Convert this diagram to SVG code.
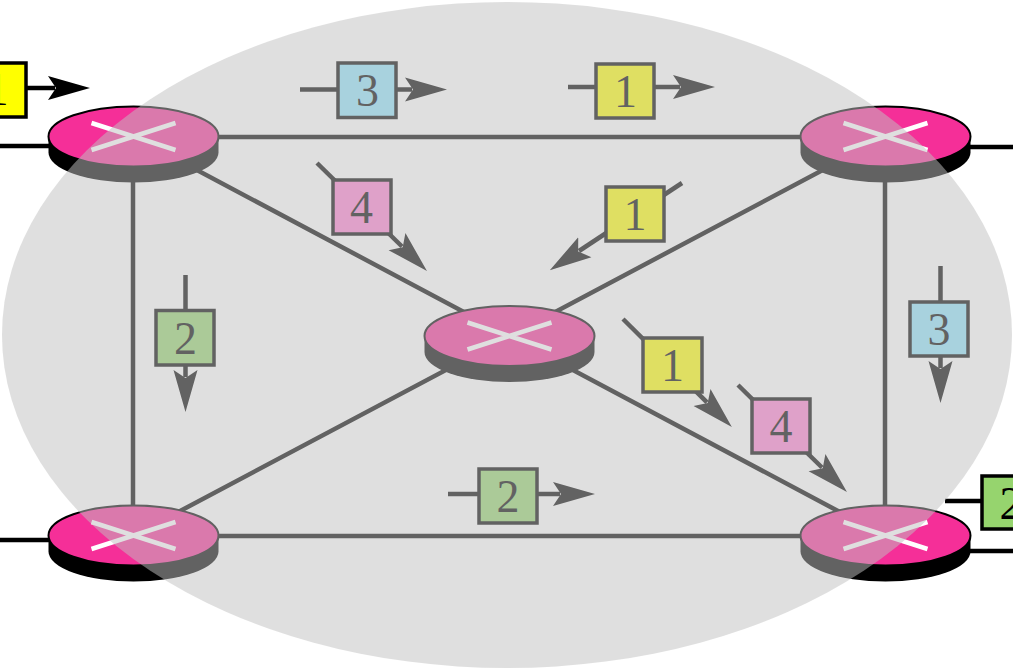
<svg xmlns="http://www.w3.org/2000/svg" width="1013" height="670" viewBox="0 0 1013 670">
<defs>
<marker id="head" markerUnits="userSpaceOnUse" markerWidth="46" markerHeight="28" refX="7" refY="14" orient="auto" viewBox="0 0 46 28"><path d="M0,2 L42,14 L0,26 L8,14 Z" fill="#000"/></marker>
<g id="router">
<path class="side" d="M-85,0 v16 a85,30 0 0 0 170,0 v-16 z"/>
<ellipse class="top" rx="85" ry="30"/>
<path class="cross" d="M-42,-13.5 L42,13.5 M-42,13.5 L42,-13.5"/>
</g>
</defs>
<style>
.link{stroke:#000;stroke-width:4.5;fill:none}
.flow{stroke:#000;stroke-width:4.5;fill:none;marker-end:url(#head)}
.side{fill:#000}
.top{fill:#f52f98;stroke:#000;stroke-width:2}
.cross{stroke:#fff;stroke-width:4.5;fill:none}
.pkt{stroke:#000;stroke-width:3.5}
.y{fill:#ffff00}.b{fill:#90e4fd}.g{fill:#96d46e}.p{fill:#ff80d3}
text{font-family:"Liberation Serif",serif;font-size:46px;text-anchor:middle;fill:#000}
</style>
<rect width="1013" height="670" fill="#fff"/>
<g id="connectors">
<path class="link" d="M133,137 H885 M133,536 H885 M133,137 V536 M885,137 V536 M133,136 L885,536 M885,137 L133,536 M0,146 H50 M0,540 H50 M968,147 H1013 M968,551 H1013"/>
<path class="flow" d="M26,88 H55"/>
<path class="flow" d="M300,89.5 H412"/>
<path class="flow" d="M568,87 H680"/>
<path class="flow" d="M317,163 L402,246.5"/>
<path class="flow" d="M682,183 L579,251"/>
<path class="flow" d="M185.5,275 V377"/>
<path class="flow" d="M940.5,266 V368"/>
<path class="flow" d="M623,319 L707,402.4"/>
<path class="flow" d="M738,385 L822,467.5"/>
<path class="flow" d="M448,494 H560"/>
<path class="link" d="M945,501 H982"/>
</g>
<use id="router-tl" href="#router" x="133.5" y="136.5"/>
<use id="router-tr" href="#router" x="885.5" y="136.5"/>
<use id="router-c" href="#router" x="509.5" y="336"/>
<use id="router-bl" href="#router" x="133.5" y="535.5"/>
<use id="router-br" href="#router" x="885.5" y="535.5"/>
<g id="pkt-1"><rect class="pkt y" x="-32" y="63" width="58" height="54"/><text x="-3" y="105">1</text></g>
<g id="pkt-2"><rect class="pkt b" x="338" y="63" width="58" height="54.5"/><text x="367.5" y="106">3</text></g>
<g id="pkt-3"><rect class="pkt y" x="596" y="64" width="58" height="54"/><text x="625.5" y="107">1</text></g>
<g id="pkt-4"><rect class="pkt p" x="333" y="180" width="58" height="54"/><text x="361.5" y="223">4</text></g>
<g id="pkt-5"><rect class="pkt y" x="606" y="187" width="58" height="54"/><text x="635" y="230">1</text></g>
<g id="pkt-6"><rect class="pkt g" x="156" y="310.5" width="58" height="54.5"/><text x="185.5" y="353.5">2</text></g>
<g id="pkt-7"><rect class="pkt b" x="910" y="302" width="58" height="54"/><text x="939" y="345">3</text></g>
<g id="pkt-8"><rect class="pkt y" x="643" y="338" width="59" height="54"/><text x="672.5" y="381">1</text></g>
<g id="pkt-9"><rect class="pkt p" x="752" y="399" width="58" height="54"/><text x="781" y="442">4</text></g>
<g id="pkt-10"><rect class="pkt g" x="479" y="469" width="58" height="54"/><text x="508" y="512">2</text></g>
<g id="pkt-11"><rect class="pkt g" x="982" y="476" width="58" height="53"/><text x="1011" y="519">2</text></g>
<ellipse id="overlay" cx="507" cy="335" rx="505" ry="333" fill="rgb(192,192,192)" fill-opacity=".51"/>
</svg>
